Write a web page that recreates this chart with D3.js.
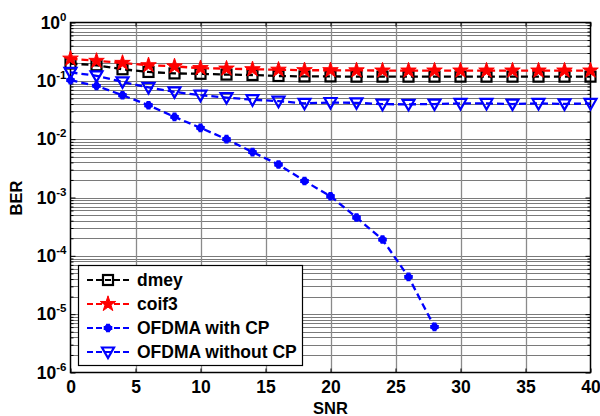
<!DOCTYPE html>
<html><head><meta charset="utf-8">
<script src="https://cdn.jsdelivr.net/npm/d3@7"></script>
<style>
body{margin:0;background:#fff;}
text{font-family:"Liberation Sans",Arial,sans-serif;font-weight:bold;}
</style></head>
<body><svg id="c" width="600" height="416"></svg>
<script>
const snr = [0,2,4,6,8,10,12,14,16,18,20,22,24,26,28,30,32,34,36,38,40];
const dmey = [0.198,0.185,0.158,0.142,0.134,0.132,0.128,0.126,0.121,0.119,0.119,0.118,0.118,0.118,0.118,0.118,0.118,0.118,0.118,0.118,0.118];
const coif3 = [0.24,0.22,0.203,0.185,0.177,0.165,0.162,0.158,0.155,0.152,0.152,0.151,0.150,0.150,0.150,0.150,0.150,0.150,0.150,0.150,0.150];
const snrCP = [0,2,4,6,8,10,12,14,16,18,20,22,24,26,28];
const ofdmaCP = [0.1026,0.082,0.0567,0.0382,0.0241,0.0156,0.0100,0.0060,0.00368,0.00192,0.00105,0.000454,0.00019,0.0000435,0.00000605];
const ofdmaNoCP = [0.140,0.122,0.096,0.077,0.0646,0.0567,0.0515,0.0475,0.0448,0.0412,0.0425,0.042,0.0398,0.0396,0.0400,0.0410,0.0410,0.0400,0.0410,0.0402,0.0410];
const xTicks = [0,5,10,15,20,25,30,35,40];
const yExps = [0,-1,-2,-3,-4,-5,-6];
const legendLabels = ["dmey","coif3","OFDMA with CP","OFDMA without CP"];

const svg = d3.select("#c");
const L=70.5,R=590.5,T=22.5,B=372.5;
const x = d3.scaleLinear().domain([0,40]).range([L,R]);
const y = d3.scaleLog().domain([1e-6,1]).range([B,T]);

// grid
const g = svg.append("g");
const minorVals=[];
for(let e=-6;e<0;e++){for(let k=1;k<10;k++){minorVals.push(k*Math.pow(10,e));}}
g.selectAll(".hg").data(minorVals.filter(v=>v>1e-6)).enter().append("line")
 .attr("x1",L).attr("x2",R).attr("y1",d=>Math.round(y(d))+0.5).attr("y2",d=>Math.round(y(d))+0.5)
 .attr("stroke","#7a7a7a").attr("stroke-width",1);
g.selectAll(".vg").data(xTicks.slice(1,-1)).enter().append("line")
 .attr("x1",d=>Math.round(x(d))+0.5).attr("x2",d=>Math.round(x(d))+0.5).attr("y1",T).attr("y2",B)
 .attr("stroke","#8a8a8a").attr("stroke-width",1.3);

// axes ticks
const xb = svg.append("g").attr("transform",`translate(0,${B})`)
 .call(d3.axisBottom(x).tickValues(xTicks).tickSize(-4).tickFormat(d=>d));
xb.select(".domain").remove();
xb.selectAll("text").attr("font-size",17.5).attr("fill","#000").attr("y",20).attr("dy",0);
const xt = svg.append("g").attr("transform",`translate(0,${T})`)
 .call(d3.axisTop(x).tickValues(xTicks).tickSize(-4).tickFormat(""));
xt.select(".domain").remove();

const yl = svg.append("g").attr("transform",`translate(${L},0)`)
 .call(d3.axisLeft(y).tickValues(minorVals.concat([1])).tickSize(-4).tickFormat(""));
yl.select(".domain").remove();
yl.selectAll(".tick line").attr("x2",d=>{const l=Math.log10(d);return Math.abs(l-Math.round(l))<1e-9?5:3;});
const yr = svg.append("g").attr("transform",`translate(${R},0)`)
 .call(d3.axisRight(y).tickValues(minorVals.concat([1])).tickSize(-4).tickFormat(""));
yr.select(".domain").remove();
yr.selectAll(".tick line").attr("x2",d=>{const l=Math.log10(d);return Math.abs(l-Math.round(l))<1e-9?-5:-3;});

// y labels with exponents
const ylab = svg.append("g");
yExps.forEach(e=>{
  const t = ylab.append("text").attr("x",L-4).attr("y",y(Math.pow(10,e))+6).attr("text-anchor","end").attr("font-size",17.5);
  t.append("tspan").text("10");
  t.append("tspan").attr("dy",-8).attr("font-size",11.5).text(e);
});

// frame
svg.append("rect").attr("x",L).attr("y",T).attr("width",R-L).attr("height",B-T)
 .attr("fill","none").attr("stroke","#000").attr("stroke-width",1.5);

// axis titles
svg.append("text").attr("x",(L+R)/2).attr("y",414).attr("text-anchor","middle").attr("font-size",16.5).text("SNR");
svg.append("text").attr("transform",`translate(22,198) rotate(-90)`).attr("text-anchor","middle").attr("font-size",16.5).text("BER");

// series
const line = d3.line().x(d=>x(d[0])).y(d=>y(d[1]));
const series = [
 {xs:snr,ys:dmey,color:"#000000",marker:"square"},
 {xs:snr,ys:coif3,color:"#ff0000",marker:"star"},
 {xs:snrCP,ys:ofdmaCP,color:"#0000ff",marker:"asterisk"},
 {xs:snr,ys:ofdmaNoCP,color:"#0000ff",marker:"tri"}
];
function drawMarker(sel,type,color){
  if(type==="square"){
    sel.append("rect").attr("x",-5).attr("y",-5).attr("width",10).attr("height",10).attr("fill","none").attr("stroke",color).attr("stroke-width",2.2);
  } else if(type==="star"){
    sel.append("path").attr("d",d3.symbol(d3.symbolStar,75)()).attr("fill",color).attr("stroke",color).attr("stroke-width",1);
  } else if(type==="asterisk"){
    sel.append("path").attr("d",d3.symbol(d3.symbolCross,28)()).attr("fill",color).attr("stroke",color).attr("stroke-width",1.5);
    sel.append("path").attr("d",d3.symbol(d3.symbolCross,22)()).attr("transform","rotate(45)").attr("fill",color).attr("stroke",color).attr("stroke-width",1);
  } else if(type==="tri"){
    sel.append("path").attr("d","M-6,-4.5L6,-4.5L0,6Z").attr("fill","none").attr("stroke",color).attr("stroke-width",2.2);
  }
}
const sg = svg.append("g");
series.forEach(s=>{
  const pts = s.xs.map((v,i)=>[v,s.ys[i]]);
  sg.append("path").datum(pts).attr("d",line).attr("fill","none").attr("stroke",s.color).attr("stroke-width",2.3).attr("stroke-dasharray","7,4");
  sg.selectAll(null).data(pts).enter().append("g").attr("transform",d=>`translate(${x(d[0])},${y(d[1])})`)
    .each(function(){drawMarker(d3.select(this),s.marker,s.color);});
});

// legend
const lg = svg.append("g");
lg.append("rect").attr("x",78.5).attr("y",265.5).attr("width",224).attr("height",100).attr("fill","#fff").attr("stroke","#000").attr("stroke-width",1.2);
const rowsY=[280,304,328,352];
series.forEach((s,i)=>{
  lg.append("line").attr("x1",87).attr("x2",130).attr("y1",rowsY[i]).attr("y2",rowsY[i]).attr("stroke",s.color).attr("stroke-width",2.2).attr("stroke-dasharray","6,3");
  const m = lg.append("g").attr("transform",`translate(108,${rowsY[i]})`);
  drawMarker(m,s.marker,s.color);
  lg.append("text").attr("x",137).attr("y",rowsY[i]+6).attr("font-size",17.5).text(legendLabels[i]);
});
</script></body></html>
